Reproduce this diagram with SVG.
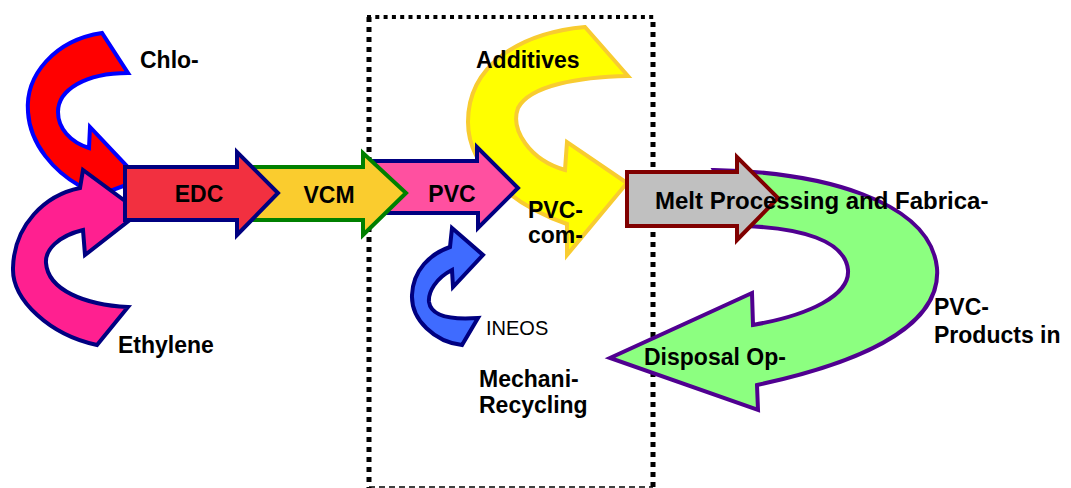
<svg xmlns="http://www.w3.org/2000/svg" width="1071" height="488" viewBox="0 0 1071 488">
<style>
.t{font-family:"Liberation Sans",Arial,sans-serif;font-weight:bold;font-size:23px;fill:#000}
.n{font-family:"Liberation Sans",Arial,sans-serif;font-size:20px;fill:#000}
.ar{stroke-width:4;stroke-linejoin:miter}
.bx{fill:none;stroke:#000}
</style>
<rect width="1071" height="488" fill="#fff"/>
<g id="box">
<line class="bx" x1="367" y1="17" x2="655" y2="17" stroke-width="4" stroke-dasharray="4 4.3"/>
<line class="bx" x1="369" y1="17" x2="369" y2="488" stroke-width="5" stroke-dasharray="5 5"/>
<line class="bx" x1="653" y1="22" x2="653" y2="488" stroke-width="5" stroke-dasharray="5 5"/>
<line class="bx" x1="369" y1="487" x2="653" y2="487" stroke-width="1.5" stroke-dasharray="6 4"/>
</g>
<g id="connectors">
<g id="additives-arrow"><path class="ar" fill="#FFFF00" stroke="#F8CC30" d="M585,27 L628,76 C580,77 530,85 518,108 C510,130 530,160 565,170 L567,142 L627,183 L567,255 L567,224 C520,208 468,172 468,122 C468,65 520,33 585,27 Z"/></g>
<g id="disposal-arrow"><path class="ar" fill="#8CFF80" stroke="#500090" d="M714,170 C820,172 930,200 937,268 C942,330 850,365 757,385 L758,410 L610,358 L752,293 L753,325 C810,315 850,295 848,270 C845,240 800,228 745,226 Z"/></g>
<g id="chlorine-arrow"><path class="ar" fill="#FF0000" stroke="#0000FF" d="M102,33 C55,40 25,75 28,112 C30,145 55,172 80,186 L72,205 L140,180 L90,127 L89,148 C70,142 58,128 58,112 C58,90 85,73 128,73 Z"/></g>
<g id="ethylene-arrow"><path class="ar" fill="#FF2090" stroke="#000080" d="M128,307 L97,345 C50,335 12,300 13,268 C14,225 45,195 80,188 L83,170 L140,212 L85,255 L83,230 C58,236 45,250 46,263 C48,290 85,305 128,307 Z"/></g>
<g id="ineos-arrow"><path class="ar" fill="#3F6BFF" stroke="#000080" d="M478,318 L462,345 C435,342 411,320 412,295 C413,270 430,254 450,247 L452,228 L483,255 L453,287 L452,270 C436,278 428,292 429,302 C431,316 450,320 478,318 Z"/></g>
</g>
<g id="pvc"><path class="ar" fill="#FF50A0" stroke="#000080" d="M372,161 L477,161 L477,147 L518,188 L478,228 L478,213 L372,213 Z"/></g>
<g id="vcm"><path class="ar" fill="#FACC2E" stroke="#008000" d="M240,167 L363,167 L363,153 L406,193 L363,235 L363,220 L240,220 Z"/></g>
<g id="edc"><path class="ar" fill="#F23040" stroke="#000080" d="M125,167 L237,167 L237,152 L278,193 L237,235 L237,220 L125,220 Z"/></g>
<g id="melt"><path class="ar" fill="#C0C0C0" stroke="#800000" d="M627,172 L737,172 L737,157 L778,198 L737,240 L737,226 L627,226 Z"/></g>
<g id="labels">
<text class="t" x="140" y="68">Chlo-</text>
<text class="t" x="118" y="353">Ethylene</text>
<text class="t" x="199" y="202" text-anchor="middle">EDC</text>
<text class="t" x="329" y="203" text-anchor="middle">VCM</text>
<text class="t" x="452" y="202" text-anchor="middle">PVC</text>
<text class="t" x="476" y="68">Additives</text>
<text class="t" x="528" y="218">PVC-</text>
<text class="t" x="528" y="243">com-</text>
<text class="n" x="486" y="335">INEOS</text>
<text class="t" x="479" y="387">Mechani-</text>
<text class="t" x="479" y="413">Recycling</text>
<text class="t" x="655" y="209" style="font-size:24px">Melt Processing and Fabrica-</text>
<text class="t" x="934" y="315">PVC-</text>
<text class="t" x="934" y="343">Products in</text>
<text class="t" x="644" y="365">Disposal Op-</text>
</g>
</svg>
